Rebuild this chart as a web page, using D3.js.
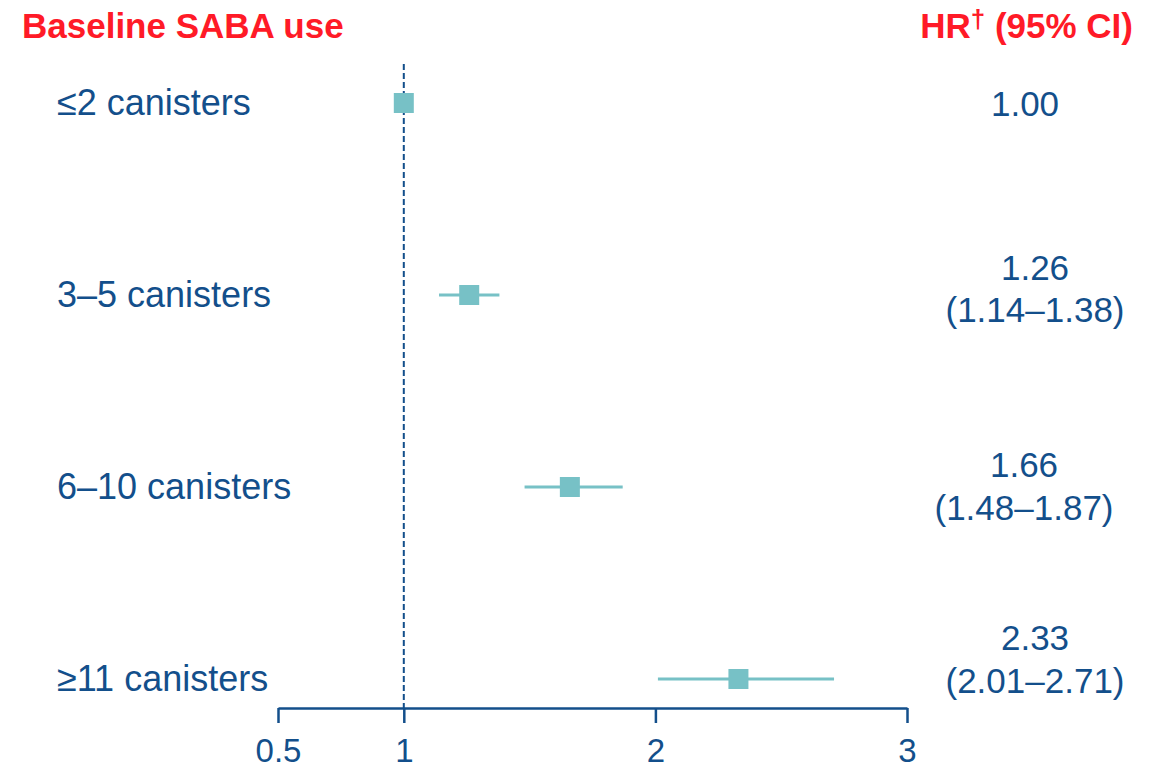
<!DOCTYPE html>
<html>
<head>
<meta charset="utf-8">
<script src="https://cdn.jsdelivr.net/npm/d3@7"></script>
<style>
  html, body { margin: 0; padding: 0; background: #ffffff; }
  svg { display: block; font-family: "Liberation Sans", Arial, sans-serif; }
</style>
</head>
<body>
<svg id="chart" width="1160" height="768"></svg>
<script>
// Baseline SABA use categories and hazard ratios with 95% CIs
const categories = ["≤2 canisters", "3–5 canisters", "6–10 canisters", "≥11 canisters"];
const hr = [1.00, 1.26, 1.66, 2.33];
const ciLow = [null, 1.14, 1.48, 2.01];
const ciHigh = [null, 1.38, 1.87, 2.71];
const hrText = ["1.00", "1.26", "1.66", "2.33"];
const ciText = [null, "(1.14–1.38)", "(1.48–1.87)", "(2.01–2.71)"];
const xTicks = [0.5, 1, 2, 3];

// Placement of the value column text, per row
const valueLayout = [
  { cx: 1025, hrDy: 13, ciDy: 0 },
  { cx: 1035, hrDy: -15, ciDy: 27 },
  { cx: 1024, hrDy: -10, ciDy: 33 },
  { cx: 1035, hrDy: -29, ciDy: 14 }
];

const navy = "#134f8b";
const teal = "#77c1c6";
const red = "#ff1a27";

const svg = d3.select("#chart");

const x = d3.scaleLinear().domain([0.5, 3]).range([278, 907]);
const y = d3.scalePoint().domain(categories).range([103, 679]);
const axisY = 708;

// Headers
svg.append("text")
  .attr("x", 22).attr("y", 38)
  .attr("fill", red).attr("font-weight", "bold").attr("font-size", 35)
  .text("Baseline SABA use");

const hdr = svg.append("text")
  .attr("x", 1133).attr("y", 38)
  .attr("text-anchor", "end")
  .attr("fill", red).attr("font-weight", "bold").attr("font-size", 35);
hdr.append("tspan").text("HR");
hdr.append("tspan").attr("font-size", 26).attr("dy", -10).text("†");
hdr.append("tspan").attr("dy", 10).text(" (95% CI)");

// Reference line at HR = 1
svg.append("line")
  .attr("x1", x(1)).attr("x2", x(1))
  .attr("y1", 64).attr("y2", axisY)
  .attr("stroke", navy).attr("stroke-width", 2)
  .attr("stroke-dasharray", "6,3");

// Axis
const axis = d3.axisBottom(x)
  .tickValues(xTicks)
  .tickFormat(d3.format("~g"))
  .tickSize(15)
  .tickSizeOuter(0)
  .tickPadding(16);

const gAxis = svg.append("g")
  .attr("transform", `translate(0,${axisY})`)
  .call(axis);
gAxis.select(".domain").attr("stroke", navy).attr("stroke-width", 2.5);
gAxis.selectAll(".tick line").attr("stroke", navy).attr("stroke-width", 2.5);
gAxis.selectAll(".tick text")
  .attr("fill", navy).attr("font-size", 33)
  .attr("font-family", "'Liberation Sans', Arial, sans-serif");

// Row labels
svg.append("g").selectAll("text")
  .data(categories)
  .join("text")
  .attr("x", 57)
  .attr("y", d => y(d) + 12)
  .attr("fill", navy).attr("font-size", 36)
  .text(d => d);

// Confidence intervals
const rows = categories.map((c, i) => ({ c, i, hr: hr[i], lo: ciLow[i], hi: ciHigh[i] }));

svg.append("g").selectAll("line")
  .data(rows.filter(r => r.lo !== null))
  .join("line")
  .attr("x1", r => x(r.lo)).attr("x2", r => x(r.hi))
  .attr("y1", r => y(r.c)).attr("y2", r => y(r.c))
  .attr("stroke", teal).attr("stroke-width", 3);

// Point estimates
const sq = 20;
svg.append("g").selectAll("rect")
  .data(rows)
  .join("rect")
  .attr("x", r => x(r.hr) - sq / 2)
  .attr("y", r => y(r.c) - sq / 2)
  .attr("width", sq).attr("height", sq)
  .attr("fill", teal);

// Value column
const vals = svg.append("g").attr("fill", navy).attr("font-size", 35).attr("text-anchor", "middle");
rows.forEach(r => {
  const L = valueLayout[r.i];
  vals.append("text")
    .attr("x", L.cx).attr("y", y(r.c) + L.hrDy)
    .text(hrText[r.i]);
  if (ciText[r.i]) {
    vals.append("text")
      .attr("x", L.cx).attr("y", y(r.c) + L.ciDy)
      .text(ciText[r.i]);
  }
});
</script>
</body>
</html>
